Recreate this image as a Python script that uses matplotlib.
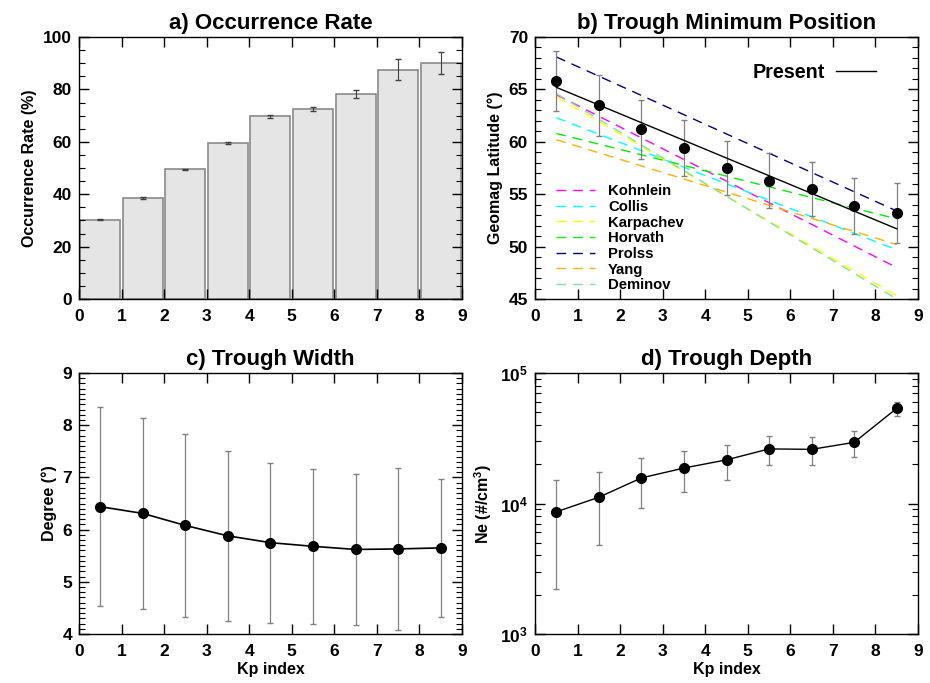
import numpy as np
import matplotlib
matplotlib.use('Agg')
import matplotlib.pyplot as plt
from matplotlib.ticker import MultipleLocator, FixedLocator, FuncFormatter, LogLocator, NullFormatter

plt.rcParams['font.family'] = ['Liberation Sans', 'DejaVu Sans']
plt.rcParams['font.weight'] = 'bold'
plt.rcParams['mathtext.fontset'] = 'custom'
plt.rcParams['mathtext.rm'] = 'Liberation Sans:bold'
plt.rcParams['mathtext.bf'] = 'Liberation Sans:bold'
plt.rcParams['mathtext.it'] = 'Liberation Sans:bold'

# Kp bins
kp = [0.5, 1.5, 2.5, 3.5, 4.5, 5.5, 6.5, 7.5, 8.5]

# a) occurrence rate (%)
occ = [30.3, 38.6, 49.6, 59.4, 69.7, 72.5, 78.4, 87.5, 90.0]
occ_err = [0.3, 0.3, 0.2, 0.4, 0.6, 0.9, 1.5, 4.0, 4.3]

# b) trough minimum position (geomag latitude)
lat = [65.8, 63.5, 61.2, 59.4, 57.5, 56.3, 55.5, 53.9, 53.2]
lat_err = [2.9, 2.9, 2.8, 2.7, 2.6, 2.6, 2.6, 2.65, 2.85]
present_fit = [65.2, 51.7]   # fit line at Kp 0.5 and 8.5

# model lines, value at Kp=0.5 and Kp=8.5
model_names = ['Kohnlein', 'Collis', 'Karpachev', 'Horvath', 'Prolss', 'Yang', 'Deminov']
model_start = [64.5, 62.3, 64.3, 60.8, 68.1, 60.2, 64.6]
model_end = [48.0, 49.7, 45.3, 52.65, 53.4, 50.2, 45.0]
model_colors = ['#ff00ff', '#00ffff', '#ffff00', '#00ee00', '#000080', '#ffb000', '#80e0a0']

# c) trough width (deg)
width = [6.44, 6.31, 6.08, 5.88, 5.75, 5.68, 5.62, 5.63, 5.65]
width_err = [1.9, 1.83, 1.75, 1.63, 1.53, 1.48, 1.45, 1.55, 1.32]

# d) trough depth (Ne)
ne = [8630, 11170, 15700, 18700, 21600, 26200, 26000, 29400, 53600]
ne_err = [6400, 6400, 6450, 6400, 6500, 6450, 6400, 6750, 6600]

fig = plt.figure(figsize=(9.3, 6.83), dpi=100)
ax_a = fig.add_axes([0.0849, 0.5622, 0.4119, 0.3836])
ax_b = fig.add_axes([0.5753, 0.5622, 0.4118, 0.3836])
ax_c = fig.add_axes([0.0849, 0.0717, 0.4119, 0.3822])
ax_d = fig.add_axes([0.5753, 0.0717, 0.4118, 0.3822])

tick_fs = 12.5
lab_fs = 11.5
title_fs = 16


def style_axes(ax):
    ax.tick_params(which='both', direction='in', top=True, right=True, labelsize=tick_fs)
    ax.tick_params(axis='x', pad=7)
    ax.tick_params(axis='y', pad=5)
    ax.tick_params(which='major', length=7, width=1)
    ax.tick_params(which='minor', length=4, width=0.8)
    for s in ax.spines.values():
        s.set_linewidth(1)
    ax.set_xlim(0, 9)
    ax.xaxis.set_major_locator(MultipleLocator(1))
    ax.xaxis.set_minor_locator(FixedLocator([]))


# a) Occurrence Rate
ax_a.bar(kp, occ, width=0.94, color='#e5e5e5', edgecolor='#8a8a8a', linewidth=1.2, zorder=1)
ax_a.errorbar(kp, occ, yerr=occ_err, fmt='none', ecolor='#404040', elinewidth=0.8, capsize=2.5, zorder=2)
ax_a.set_ylim(0, 100)
ax_a.yaxis.set_major_locator(MultipleLocator(20))
ax_a.yaxis.set_minor_locator(MultipleLocator(5))
style_axes(ax_a)
ax_a.set_ylabel('Occurrence Rate (%)', fontsize=lab_fs, fontweight='bold')
ax_a.set_title('a) Occurrence Rate', fontsize=title_fs, fontweight='bold', pad=6)

# b) Trough Minimum Position
model_handles = []
for name, y0, y1, col in zip(model_names, model_start, model_end, model_colors):
    ln, = ax_b.plot([kp[0], kp[-1]], [y0, y1], color=col, lw=1, dashes=(7, 5), label=name)
    model_handles.append(ln)
ax_b.errorbar(kp, lat, yerr=lat_err, fmt='none', ecolor='#808080', elinewidth=0.9, capsize=2.5, zorder=3)
present, = ax_b.plot([kp[0], kp[-1]], present_fit, color='black', lw=1, label='Present', zorder=3)
ax_b.plot(kp, lat, 'o', color='black', ms=7, zorder=4)
ax_b.set_ylim(45, 70)
ax_b.yaxis.set_major_locator(MultipleLocator(5))
ax_b.yaxis.set_minor_locator(MultipleLocator(1))
style_axes(ax_b)
ax_b.set_ylabel('Geomag Latitude (°)', fontsize=lab_fs, fontweight='bold')
ax_b.set_title('b) Trough Minimum Position', fontsize=title_fs, fontweight='bold', pad=6)

leg1 = ax_b.legend(handles=model_handles, loc='lower left', bbox_to_anchor=(0.02, -0.025),
                   frameon=False, handlelength=2.6, handletextpad=0.9,
                   labelspacing=0.11, prop={'weight': 'bold', 'size': 10.7})
ax_b.add_artist(leg1)
ax_b.legend(handles=[present], loc='center right', bbox_to_anchor=(0.89, 0.866), frameon=False,
            markerfirst=False, handlelength=2.0, handletextpad=0.6, borderpad=0, borderaxespad=0,
            prop={'weight': 'bold', 'size': 14.2})

# c) Trough Width
ax_c.errorbar(kp, width, yerr=width_err, fmt='none', ecolor='#808080', elinewidth=0.9, capsize=2.5, zorder=2)
ax_c.plot(kp, width, '-o', color='black', lw=1.2, ms=7, zorder=3)
ax_c.set_ylim(4, 9)
ax_c.yaxis.set_major_locator(MultipleLocator(1))
ax_c.yaxis.set_minor_locator(MultipleLocator(0.1))
style_axes(ax_c)
ax_c.set_ylabel('Degree (°)', fontsize=lab_fs, fontweight='bold')
ax_c.set_xlabel('Kp index', fontsize=lab_fs, fontweight='bold', labelpad=2)
ax_c.set_title('c) Trough Width', fontsize=title_fs, fontweight='bold', pad=6)

# d) Trough Depth
ax_d.errorbar(kp, ne, yerr=ne_err, fmt='none', ecolor='#808080', elinewidth=0.9, capsize=2.5, zorder=2)
ax_d.plot(kp, ne, '-o', color='black', lw=1.0, ms=7, zorder=3)
ax_d.set_yscale('log')
ax_d.set_ylim(1e3, 1e5)
ax_d.yaxis.set_major_locator(LogLocator(base=10, numticks=5))
ax_d.yaxis.set_minor_locator(LogLocator(base=10, subs=np.arange(2, 10), numticks=10))
ax_d.yaxis.set_minor_formatter(NullFormatter())
ax_d.yaxis.set_major_formatter(FuncFormatter(lambda v, p: r'$\mathbf{10^{%d}}$' % round(np.log10(v))))
style_axes(ax_d)
ax_d.set_ylabel(r'Ne (#/cm$^{\mathbf{3}}$)', fontsize=lab_fs, fontweight='bold')
ax_d.set_xlabel('Kp index', fontsize=lab_fs, fontweight='bold', labelpad=2)
ax_d.set_title('d) Trough Depth', fontsize=title_fs, fontweight='bold', pad=6)

fig.savefig('out.png', dpi=100)
